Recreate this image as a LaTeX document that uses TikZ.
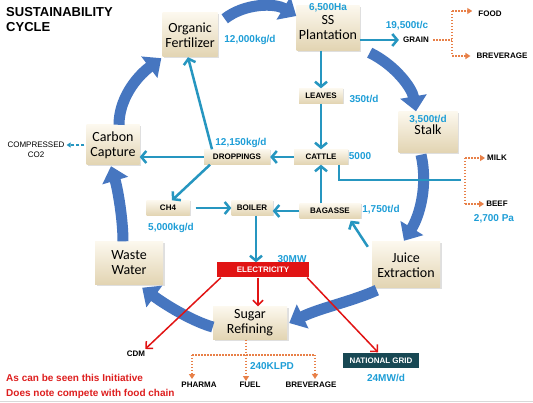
\documentclass[tikz,border=0pt]{standalone}
\usepackage{fontspec}
\setmainfont{Liberation Sans}
\newfontfamily\calibri{Carlito}
\usetikzlibrary{arrows.meta,shadows}

\definecolor{cyclblue}{RGB}{70,118,192}
\definecolor{flowteal}{RGB}{38,150,192}
\definecolor{qtycyan}{RGB}{30,158,215}
\definecolor{dotorange}{RGB}{232,128,72}
\definecolor{powerred}{RGB}{225,20,20}
\definecolor{notered}{RGB}{222,30,30}
\definecolor{gridteal}{RGB}{24,72,84}
\definecolor{boxtop}{RGB}{252,248,238}
\definecolor{boxbot}{RGB}{226,212,178}

\tikzset{
  stage/.style={top color=boxtop, bottom color=boxbot, align=center, inner sep=1pt,
    drop shadow={shadow xshift=1.5pt, shadow yshift=-1.5pt, opacity=0.25},
    font=\calibri\fontsize{14}{15}\selectfont},
  item/.style={top color=boxtop, bottom color=boxbot, minimum height=15pt, inner sep=2pt,
    drop shadow={shadow xshift=1pt, shadow yshift=-1pt, opacity=0.25},
    font=\bfseries\fontsize{8}{9}\selectfont},
  qty/.style={text=qtycyan, inner sep=0pt, font=\bfseries\fontsize{10}{12}\selectfont},
  product/.style={inner sep=0pt, font=\bfseries\fontsize{8}{9}\selectfont},
  cyclearr/.style={cyclblue, line width=11pt, -{Triangle[length=15pt,width=26pt]}},
  flow/.style={flowteal, line width=2.5pt, -{Straight Barb[length=5pt,width=12pt]}},
  power/.style={powerred, line width=1.5pt, -{Straight Barb[length=5pt,width=10pt]}},
  split/.style={dotorange, line width=1.5pt, dash pattern=on 1.5pt off 1.5pt},
  splitarr/.style={split, -{Triangle[length=5pt,width=6pt]}},
}

\begin{document}
\begin{tikzpicture}[x=1pt, y=-1pt]
\useasboundingbox (0,0) rectangle (533,403);
\fill[white] (0,0) rectangle (533,403);
\draw[black!15, line width=1pt] (0,401.5) -- (533,401.5);

\node[anchor=north west, align=left, inner sep=0pt, font=\bfseries\fontsize{13}{15}\selectfont] (title) at (6,7) {SUSTAINABILITY\\CYCLE};

\node[stage, minimum width=55pt, minimum height=44pt] (orgfert) at (190,35) {Organic\\Fertilizer};
\node[stage, minimum width=63pt, minimum height=45pt] (ssplant) at (328,28) {SS\\Plantation};
\node[stage, minimum width=59pt, minimum height=41pt] (stalk) at (428,132) {\strut Stalk};
\node[stage, minimum width=68pt, minimum height=46pt] (juice) at (406,265) {Juice\\Extraction};
\node[stage, minimum width=74pt, minimum height=33pt] (sugar) at (250,323) {Sugar\\Refining};
\node[stage, minimum width=68pt, minimum height=43pt] (waste) at (129,263) {Waste\\Water};
\node[stage, minimum width=53pt, minimum height=40pt] (carbon) at (113,145) {Carbon\\Capture};

\node[item, minimum width=44pt] (leaves) at (321,96) {LEAVES};
\node[item, minimum width=54pt] (cattle) at (321,157) {CATTLE};
\node[item, minimum width=66pt] (droppings) at (237,157) {DROPPINGS};
\node[item, minimum width=43pt] (methane) at (168,208) {CH4};
\node[item, minimum width=41pt] (boiler) at (252,208) {BOILER};
\node[item, minimum width=61pt] (bagasse) at (330,211) {BAGASSE};
\node[fill=powerred, text=white, minimum width=92pt, minimum height=15pt, inner sep=1pt, font=\bfseries\fontsize{8}{9}\selectfont] (electricity) at (263,270) {ELECTRICITY};
\node[fill=gridteal, text=white, minimum width=76pt, minimum height=15pt, inner sep=1pt, font=\bfseries\fontsize{8}{9}\selectfont] (natgrid) at (381,361) {NATIONAL GRID};

\node[product] (grain) at (416,40) {GRAIN};
\node[product] (food) at (490,14) {FOOD};
\node[product] (topbev) at (502,56) {BREVERAGE};
\node[product] (milk) at (497,158) {MILK};
\node[product] (beef) at (497,204) {BEEF};
\node[product] (cdm) at (136,354) {CDM};
\node[product] (pharma) at (199,385) {PHARMA};
\node[product] (fuel) at (250,385) {FUEL};
\node[product] (botbev) at (311,385) {BREVERAGE};
\node[align=center, inner sep=0pt, font=\fontsize{8}{10}\selectfont] (compressed) at (36,150) {COMPRESSED\\CO2};

\node[qty] (ofqty) at (250,40) {12,000kg/d};
\node[qty] (ssqty) at (328,8) {6,500Ha};
\node[qty] (grainqty) at (407,26) {19,500t/c};
\node[qty] (leafqty) at (364,99) {350t/d};
\node[qty] (stalkqty) at (428,120) {3,500t/d};
\node[qty] (cattleqty) at (360,156) {5000};
\node[qty] (dropqty) at (241,143) {12,150kg/d};
\node[qty] (bagqty) at (381,210) {1,750t/d};
\node[qty] (meatqty) at (494,219) {2,700 Pa};
\node[qty] (ch4qty) at (171,228) {5,000kg/d};
\node[qty] (elecqty) at (292,259) {30MW};
\node[qty] (fuelqty) at (272,366) {240KLPD};
\node[qty] (gridqty) at (386,378) {24MW/d};

\node[anchor=north west, align=left, inner sep=0pt, text=notered, font=\bfseries\fontsize{10}{15}\selectfont] (note) at (6,374) {As can be seen this Initiative\\Does note compete with food chain};

\draw[cyclearr] ([shift={(7,6)}]orgfert.north east) .. controls (245,3) and (275,3) .. ([shift={(0,-12)}]ssplant.west);
\draw[cyclearr] ([shift={(10,2)}]ssplant.south east) .. controls (395,65) and (412,88) .. ([shift={(-12,0)}]stalk.north);
\draw[cyclearr] ([shift={(-7,2)}]stalk.south) .. controls (428,185) and (420,215) .. ([shift={(-2,-1)}]juice.north);
\draw[cyclearr] ([shift={(5,2)}]juice.south west) .. controls (350,302) and (320,308) .. ([shift={(2,0)}]sugar.east);
\draw[cyclearr] ([shift={(0,4)}]sugar.west) .. controls (195,322) and (170,308) .. ([shift={(-21,3)}]waste.south east);
\draw[cyclearr] ([shift={(-6,0)}]waste.north) .. controls (123,220) and (118,190) .. ([shift={(-2,1)}]carbon.south);
\draw[cyclearr] ([shift={(6,0)}]carbon.north) .. controls (119,100) and (135,78) .. ([shift={(-1,1)}]orgfert.south west);

\draw[flow, shorten >=4pt] (ssplant.east |- grain.west) -- (grain.west);
\draw[flow] (ssplant.south -| leaves) -- (leaves.north);
\draw[flow] (leaves.south) -- (cattle.north);
\draw[flow] (cattle.west) -- (droppings.east);
\draw[flow] (droppings.west) -- (carbon.east |- droppings.west);
\draw[flow] ([xshift=-25pt]droppings.north) -- ([xshift=-2pt]orgfert.south);
\draw[flow] ([xshift=-27pt]droppings.south) -- ([xshift=4pt]methane.north);
\draw[flow, shorten <=6pt] (methane.east) -- (boiler.west);
\draw[flow] (bagasse.west) -- (boiler.east |- bagasse.west);
\draw[flow] (bagasse.north -| cattle) -- (cattle.south);
\draw[flow] ([xshift=4pt]boiler.south) -- ([xshift=4pt]boiler.south |- electricity.north);
\draw[flow] ([shift={(-4,5)}]juice.north west) -- ([shift={(-10,2)}]bagasse.south east);

\coordinate (stock) at (461,180);
\coordinate (stockfork) at (465,180);
\draw[flowteal, line width=2.5pt] ([xshift=18pt]cattle.south) |- (stock);
\draw[split] (stockfork |- milk.west) -- (stockfork |- beef.west);
\draw[splitarr, shorten >=2pt] (stockfork |- milk.west) -- (milk.west);
\draw[splitarr, shorten >=2pt] (stockfork |- beef.west) -- (beef.west);

\coordinate (grainfork) at (452,40);
\draw[split, shorten <=4pt] (grain.east) -- (grainfork);
\draw[split] (grainfork |- 0,11) -- (grainfork |- topbev.west);
\draw[splitarr, shorten >=6pt] (grainfork |- 0,11) -- (food.west |- 0,11);
\draw[splitarr, shorten >=6pt] (grainfork |- topbev.west) -- (topbev.west);

\coordinate (pharmafork) at (192,355);
\coordinate (bevfork) at (315,355);
\draw[split] (pharmafork) -- (bevfork);
\draw[splitarr, shorten >=3pt] (pharmafork) -- (pharmafork |- pharma.north);
\draw[splitarr, shorten >=1pt] ([xshift=-4pt]sugar.south) -- ([xshift=-4pt]sugar.south |- fuel.north);
\draw[splitarr, shorten >=3pt] (bevfork) -- (bevfork |- botbev.north);

\draw[power] ([xshift=-5pt]electricity.south) -- ([xshift=-5pt]electricity.south |- sugar.north);
\draw[power] ([xshift=4pt]electricity.south west) -- ([shift={(0,-2)}]cdm.north east);
\draw[power] ([xshift=-2pt]electricity.south east) -- ([shift={(-3,-1)}]natgrid.north);

\draw[flowteal, line width=1.5pt, dash pattern=on 3pt off 2pt, -{Triangle[length=4pt,width=5pt]}, shorten >=2pt] ([xshift=-2pt]carbon.west) -- (compressed.east |- carbon.west);
\end{tikzpicture}
\end{document}
